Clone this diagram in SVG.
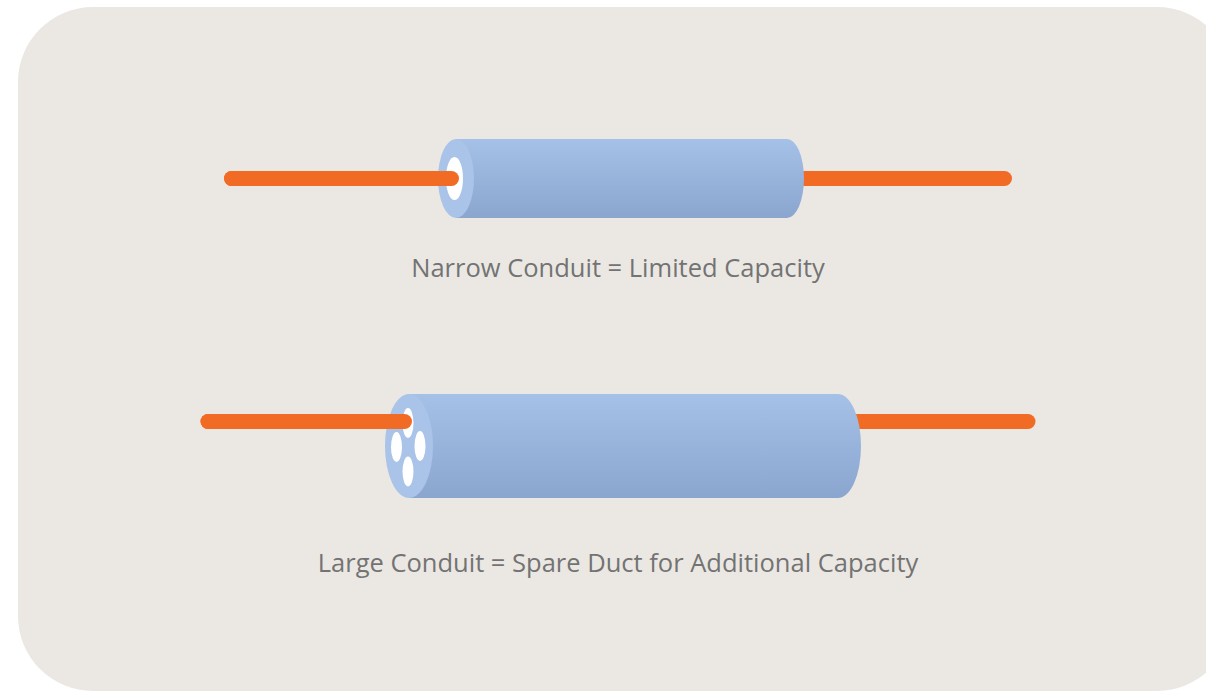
<svg xmlns="http://www.w3.org/2000/svg" width="1206" height="691" viewBox="0 0 1206 691">
<defs>
<linearGradient id="body" x1="0" y1="0" x2="0" y2="1">
<stop offset="0" stop-color="#a6c1e7"/>
<stop offset="1" stop-color="#8aa6cf"/>
</linearGradient>
<style>
.cable{stroke:#f26b24;stroke-width:15;stroke-linecap:round;fill:none}
.face{fill:#a9c4e8}
.hole{fill:#ffffff}
.lbl{font-family:"Open Sans","Liberation Sans",sans-serif;font-size:25.5px;fill:#737373;text-anchor:middle}
</style>
</defs>
<rect x="0" y="0" width="1206" height="691" fill="#ffffff"/>
<rect x="18" y="7" width="1214" height="684" rx="75" ry="75" fill="#ebe8e3"/>

<g id="connectors">
<line class="cable" x1="231.5" y1="178.5" x2="1004.5" y2="178.5"/>
<line class="cable" x1="208" y1="421.5" x2="1028" y2="421.5"/>
</g>

<g id="narrow-conduit">
<path d="M456 139 H787 A17 39.5 0 0 1 787 218 H456 Z" fill="url(#body)"/>
<ellipse class="face" cx="456" cy="178.5" rx="18" ry="39.5"/>
<ellipse class="hole" cx="454.5" cy="178.5" rx="8.5" ry="21.5"/>
<line class="cable" x1="231.5" y1="178.5" x2="451.5" y2="178.5"/>
</g>

<g id="large-conduit">
<path d="M409 394 H838 A23 52 0 0 1 838 498 H409 Z" fill="url(#body)"/>
<ellipse class="face" cx="409" cy="446" rx="24" ry="52"/>
<ellipse class="hole" cx="408" cy="423" rx="5.5" ry="15"/>
<ellipse class="hole" cx="396.5" cy="447" rx="5.5" ry="15"/>
<ellipse class="hole" cx="420" cy="446" rx="5.5" ry="15"/>
<ellipse class="hole" cx="408" cy="471.5" rx="5.5" ry="15"/>
<line class="cable" x1="208" y1="421.5" x2="404.5" y2="421.5"/>
</g>

<g id="label-narrow">
<text class="lbl" x="618" y="277">Narrow Conduit = Limited Capacity</text>
</g>
<g id="label-large">
<text class="lbl" x="618" y="572">Large Conduit = Spare Duct for Additional Capacity</text>
</g>
</svg>
